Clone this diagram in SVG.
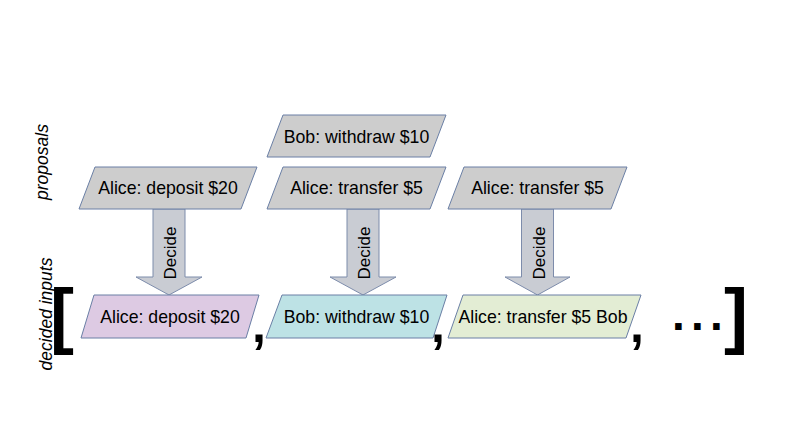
<svg xmlns="http://www.w3.org/2000/svg" width="794" height="447" viewBox="0 0 794 447">
<style>
.n{stroke:#6a7fa5;stroke-width:1}
.p{fill:#cdcdcd}
.t{font-family:"Liberation Sans",Arial,sans-serif;font-size:17.7px;fill:#000;text-anchor:middle}
.lab{font-family:"Liberation Sans",Arial,sans-serif;font-size:17.5px;font-style:italic;fill:#000;text-anchor:middle}
.arr{fill:#c9ccd3;stroke:#7d8cab;stroke-width:1}
.big{font-family:"Liberation Sans",Arial,sans-serif;font-weight:bold;fill:#000}
</style>
<rect width="794" height="447" fill="#ffffff"/>
<text class="lab" transform="translate(48,162) rotate(-90)">proposals</text>
<text class="lab" transform="translate(52,314) rotate(-90)">decided inputs</text>
<g id="connectors">
<polygon class="arr" points="153,209 185,209 185,277 202,277 169,295 136,277 153,277"/>
<polygon class="arr" points="347,209 379,209 379,277 396,277 363,295 330,277 347,277"/>
<polygon class="arr" points="521.5,209 553.5,209 553.5,277 570,277 537.5,295 505,277 521.5,277"/>
<text class="t" style="font-size:17px" transform="translate(176,253) rotate(-90)">Decide</text>
<text class="t" style="font-size:17px" transform="translate(370,253) rotate(-90)">Decide</text>
<text class="t" style="font-size:17px" transform="translate(544.5,253) rotate(-90)">Decide</text>
</g>
<g id="prop-bob">
<polygon class="n p" points="283,115 446,115 430,157 267,157"/>
<text class="t" x="356.5" y="142.5">Bob: withdraw $10</text>
</g>
<g id="prop-alice-deposit">
<polygon class="n p" points="95,167 257,167 241,209 79,209"/>
<text class="t" x="168" y="194">Alice: deposit $20</text>
</g>
<g id="prop-alice-transfer-1">
<polygon class="n p" points="283,167 446,167 430,209 267,209"/>
<text class="t" x="356.5" y="194">Alice: transfer $5</text>
</g>
<g id="prop-alice-transfer-2">
<polygon class="n p" points="464,167 627,167 611,209 448,209"/>
<text class="t" x="537.5" y="194">Alice: transfer $5</text>
</g>
<g id="dec-alice-deposit">
<polygon class="n" fill="#ddcae3" points="94,295 259,295 246,338 81,338"/>
<text class="t" x="170" y="323">Alice: deposit $20</text>
</g>
<g id="dec-bob-withdraw">
<polygon class="n" fill="#bde2e5" points="282,295 447,295 433,338 266,338"/>
<text class="t" x="356.5" y="323">Bob: withdraw $10</text>
</g>
<g id="dec-alice-transfer">
<polygon class="n" fill="#e3edd4" points="463,295 641,295 626,338 448,338"/>
<text class="t" x="543" y="323">Alice: transfer $5 Bob</text>
</g>
<g id="list-punctuation">
<text class="big" x="50" y="340" font-size="72">[</text>
<text class="big" x="252" y="342" font-size="50">,</text>
<text class="big" x="431" y="342" font-size="50">,</text>
<text class="big" x="630" y="342" font-size="50">,</text>
<text class="big" y="330" font-size="46"><tspan x="672">.</tspan><tspan x="691">.</tspan><tspan x="710">.</tspan></text>
<text class="big" x="724" y="340" font-size="72">]</text>
</g>
</svg>
